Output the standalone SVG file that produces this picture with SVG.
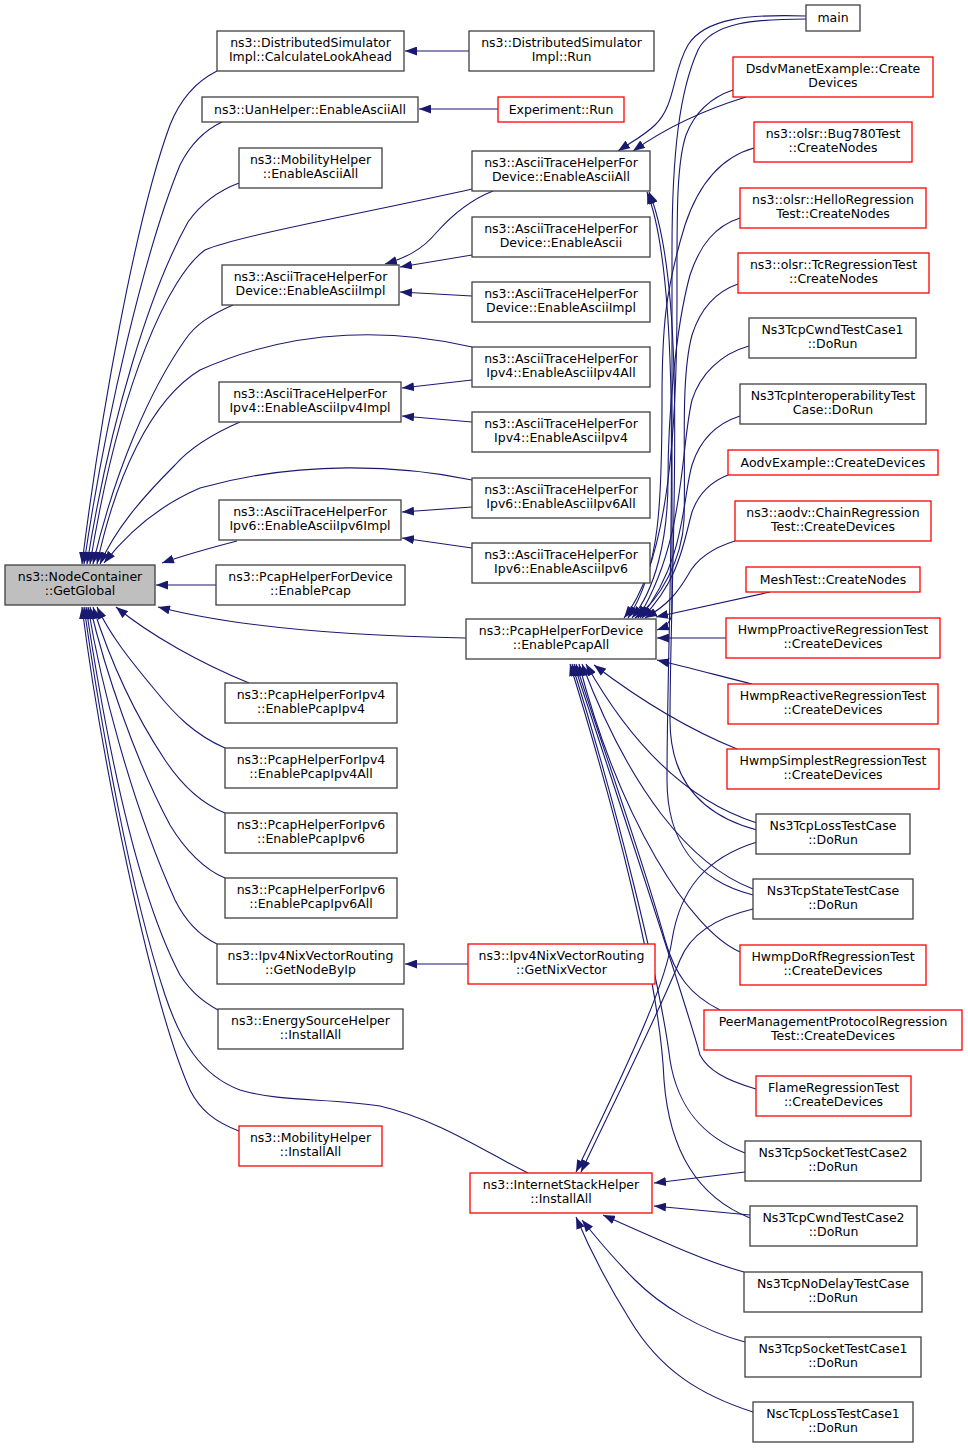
<svg xmlns="http://www.w3.org/2000/svg" width="968" height="1448" viewBox="0 0 968 1448">
<style>
text{font-family:"DejaVu Sans","Liberation Sans",sans-serif;font-size:12.5px;text-anchor:middle;fill:#000}
.n rect{fill:#fff;stroke:#404040;stroke-width:1.3}
.r rect{fill:#fff;stroke:#ff0000;stroke-width:1.3}
.g rect{fill:#bfbfbf;stroke:#404040;stroke-width:1.3}
#edges path{fill:none;stroke:#191970;stroke-width:1.1;marker-end:url(#ah)}
</style>
<defs>
<marker id="ah" viewBox="0 0 12 9" refX="12" refY="4.5" markerWidth="12" markerHeight="9" markerUnits="userSpaceOnUse" orient="auto"><path d="M0,0 L12,4.5 L0,9 z" fill="#191970"/></marker>
</defs>
<rect width="968" height="1448" fill="#fff"/>
<g id="edges">
<!-- to GetGlobal -->
<path d="M217,71 C195,82 180,100 170,125 C135,220 100,420 82,564"/>
<path d="M222,122 C205,130 190,145 180,165 C145,250 105,420 84,564"/>
<path d="M239,183 C215,192 200,205 188,222 C150,290 110,420 87,564"/>
<path d="M472,189 C380,210 240,235 205,250 C170,275 120,380 90,564"/>
<path d="M233,305 C210,315 195,325 185,340 C150,390 115,470 93,564"/>
<path d="M472,347 C400,330 300,325 200,370 C150,400 115,480 97,564"/>
<path d="M240,422 C210,435 190,448 175,465 C140,500 115,530 100,564"/>
<path d="M472,480 C400,465 300,460 200,488 C160,505 130,530 104,563"/>
<path d="M237,541 C210,548 185,555 162,563"/>
<path d="M216,585 L156,585"/>
<path d="M466,638 C350,636 240,628 158,607"/>
<path d="M249,683 C200,663 150,635 116,607"/>
<path d="M225,748 C195,735 175,715 155,690 C130,660 110,635 97,607"/>
<path d="M225,813 C205,805 185,790 165,760 C135,715 110,660 93,607"/>
<path d="M225,878 C205,870 185,850 170,825 C135,760 105,670 90,607"/>
<path d="M217,944 C200,936 185,920 175,900 C130,800 100,680 88,607"/>
<path d="M218,1010 C200,1000 190,990 180,975 C130,880 100,700 86,607"/>
<path d="M528,1173 C490,1155 440,1120 380,1106 C330,1098 280,1102 240,1090 C200,1075 180,1040 165,995 C130,890 100,720 84,607"/>
<path d="M239,1131 C215,1122 200,1110 190,1090 C150,1000 100,750 82,607"/>
<!-- level 2 -->
<path d="M469,51 L405,51"/>
<path d="M498,109 L419,109"/>
<path d="M493,191 C470,200 452,215 436,233 C422,250 405,258 385,264"/>
<path d="M472,255 L400,267"/>
<path d="M472,296 L400,292"/>
<path d="M472,380 L402,388"/>
<path d="M472,422 L402,416"/>
<path d="M472,507 L402,512"/>
<path d="M472,548 L402,538"/>
<path d="M468,964 L405,964"/>
<!-- to EnableAsciiAll (Device) -->
<path d="M806,16 C750,14 705,18 688,45 C672,72 676,105 655,125 C645,135 630,143 618,151"/>
<path d="M746,97 C710,108 670,125 633,151"/>
<path d="M757,830 C700,815 670,780 670,720 C670,560 690,290 649,192"/>
<path d="M753,895 C695,880 667,840 667,780 C667,600 686,290 647,192"/>
<!-- to EnablePcapAll -->
<path d="M806,19 C755,19 712,22 698,50 C680,90 672,150 672,250 L672,610 C672,620 668,626 657,630"/>
<path d="M733,90 C712,97 695,112 686,135 C676,165 677,220 677,300 C677,420 670,560 624,618"/>
<path d="M754,148 C725,156 700,180 685,225 C665,290 662,330 662,400 C662,500 660,570 628,618"/>
<path d="M740,218 C715,226 700,245 690,275 C675,330 668,420 668,480 C668,540 655,590 632,618"/>
<path d="M738,284 C715,292 700,310 692,335 C680,380 686,460 684,520 C682,560 660,600 635,618"/>
<path d="M749,346 C720,354 700,375 692,400 C680,450 686,540 638,618"/>
<path d="M740,416 C715,424 700,440 692,465 C682,500 686,560 640,618"/>
<path d="M728,475 C710,482 698,495 692,512 C684,540 680,580 642,618"/>
<path d="M735,541 C712,548 696,560 688,575 C678,592 668,605 645,618"/>
<path d="M770,592 L656,617"/>
<path d="M726,638 L657,638"/>
<path d="M752,684 C720,676 690,668 657,660"/>
<path d="M737,749 C690,730 640,700 594,665"/>
<path d="M757,823 C700,805 640,760 586,664"/>
<path d="M753,889 C690,865 630,790 582,664"/>
<path d="M740,952 C690,930 620,820 579,664"/>
<path d="M720,1010 C690,995 675,975 665,940 C640,850 600,740 576,664"/>
<path d="M756,1089 C725,1080 708,1070 700,1055 C685,1000 625,820 574,664"/>
<path d="M745,1153 C705,1138 678,1110 670,1060 C660,980 615,800 572,664"/>
<path d="M750,1218 C705,1200 670,1160 664,1080 C660,980 612,800 570,664"/>
<!-- to InternetStackHelper::InstallAll -->
<path d="M757,842 C705,858 680,890 672,940 C666,980 640,1040 576,1172"/>
<path d="M753,909 C715,918 690,935 680,960 C660,1010 620,1090 581,1172"/>
<path d="M745,1172 L654,1183"/>
<path d="M750,1215 L654,1206"/>
<path d="M744,1272 C710,1263 670,1245 603,1215"/>
<path d="M745,1342 C700,1330 660,1305 635,1280 C615,1260 598,1240 582,1220"/>
<path d="M753,1412 C700,1395 660,1370 630,1320 C605,1280 590,1250 576,1217"/>
</g>
<g id="n_getglobal" class="g"><rect x="5" y="565" width="150" height="40"/><text x="80" y="581">ns3::NodeContainer</text><text x="80" y="595">::GetGlobal</text></g>
<g id="n_calclookahead" class="n"><rect x="217" y="31" width="187" height="40"/><text x="310.5" y="47">ns3::DistributedSimulator</text><text x="310.5" y="61">Impl::CalculateLookAhead</text></g>
<g id="n_uan" class="n"><rect x="202" y="97" width="216" height="25"/><text x="310" y="113.5">ns3::UanHelper::EnableAsciiAll</text></g>
<g id="n_mobascii" class="n"><rect x="239" y="148" width="143" height="40"/><text x="310.5" y="164">ns3::MobilityHelper</text><text x="310.5" y="178">::EnableAsciiAll</text></g>
<g id="n_devasciiimpl_l" class="n"><rect x="222" y="265" width="177" height="40"/><text x="310.5" y="281">ns3::AsciiTraceHelperFor</text><text x="310.5" y="295">Device::EnableAsciiImpl</text></g>
<g id="n_ipv4impl" class="n"><rect x="219" y="382" width="182" height="40"/><text x="310" y="398">ns3::AsciiTraceHelperFor</text><text x="310" y="412">Ipv4::EnableAsciiIpv4Impl</text></g>
<g id="n_ipv6impl" class="n"><rect x="219" y="500" width="182" height="40"/><text x="310" y="516">ns3::AsciiTraceHelperFor</text><text x="310" y="530">Ipv6::EnableAsciiIpv6Impl</text></g>
<g id="n_enablepcap" class="n"><rect x="216" y="565" width="189" height="40"/><text x="310.5" y="581">ns3::PcapHelperForDevice</text><text x="310.5" y="595">::EnablePcap</text></g>
<g id="n_pcapipv4" class="n"><rect x="225" y="683" width="172" height="40"/><text x="311" y="699">ns3::PcapHelperForIpv4</text><text x="311" y="713">::EnablePcapIpv4</text></g>
<g id="n_pcapipv4all" class="n"><rect x="225" y="748" width="172" height="40"/><text x="311" y="764">ns3::PcapHelperForIpv4</text><text x="311" y="778">::EnablePcapIpv4All</text></g>
<g id="n_pcapipv6" class="n"><rect x="225" y="813" width="172" height="40"/><text x="311" y="829">ns3::PcapHelperForIpv6</text><text x="311" y="843">::EnablePcapIpv6</text></g>
<g id="n_pcapipv6all" class="n"><rect x="225" y="878" width="172" height="40"/><text x="311" y="894">ns3::PcapHelperForIpv6</text><text x="311" y="908">::EnablePcapIpv6All</text></g>
<g id="n_getnodebyip" class="n"><rect x="217" y="944" width="187" height="40"/><text x="310.5" y="960">ns3::Ipv4NixVectorRouting</text><text x="310.5" y="974">::GetNodeByIp</text></g>
<g id="n_energy" class="n"><rect x="218" y="1009" width="185" height="40"/><text x="310.5" y="1025">ns3::EnergySourceHelper</text><text x="310.5" y="1039">::InstallAll</text></g>
<g id="n_mobinstall" class="r"><rect x="239" y="1126" width="143" height="40"/><text x="310.5" y="1142">ns3::MobilityHelper</text><text x="310.5" y="1156">::InstallAll</text></g>
<g id="n_dsirun" class="n"><rect x="469" y="31" width="185" height="40"/><text x="561.5" y="47">ns3::DistributedSimulator</text><text x="561.5" y="61">Impl::Run</text></g>
<g id="n_exprun" class="r"><rect x="498" y="97" width="126" height="25"/><text x="561" y="113.5">Experiment::Run</text></g>
<g id="n_devasciiall" class="n"><rect x="472" y="151" width="178" height="40"/><text x="561" y="167">ns3::AsciiTraceHelperFor</text><text x="561" y="181">Device::EnableAsciiAll</text></g>
<g id="n_devascii" class="n"><rect x="472" y="217" width="178" height="40"/><text x="561" y="233">ns3::AsciiTraceHelperFor</text><text x="561" y="247">Device::EnableAscii</text></g>
<g id="n_devasciiimpl_m" class="n"><rect x="472" y="282" width="178" height="40"/><text x="561" y="298">ns3::AsciiTraceHelperFor</text><text x="561" y="312">Device::EnableAsciiImpl</text></g>
<g id="n_ipv4all" class="n"><rect x="472" y="347" width="178" height="40"/><text x="561" y="363">ns3::AsciiTraceHelperFor</text><text x="561" y="377">Ipv4::EnableAsciiIpv4All</text></g>
<g id="n_ipv4" class="n"><rect x="472" y="412" width="178" height="40"/><text x="561" y="428">ns3::AsciiTraceHelperFor</text><text x="561" y="442">Ipv4::EnableAsciiIpv4</text></g>
<g id="n_ipv6all" class="n"><rect x="472" y="478" width="178" height="40"/><text x="561" y="494">ns3::AsciiTraceHelperFor</text><text x="561" y="508">Ipv6::EnableAsciiIpv6All</text></g>
<g id="n_ipv6" class="n"><rect x="472" y="543" width="178" height="40"/><text x="561" y="559">ns3::AsciiTraceHelperFor</text><text x="561" y="573">Ipv6::EnableAsciiIpv6</text></g>
<g id="n_pcapall" class="n"><rect x="466" y="619" width="190" height="40"/><text x="561" y="635">ns3::PcapHelperForDevice</text><text x="561" y="649">::EnablePcapAll</text></g>
<g id="n_getnixvector" class="r"><rect x="468" y="944" width="187" height="40"/><text x="561.5" y="960">ns3::Ipv4NixVectorRouting</text><text x="561.5" y="974">::GetNixVector</text></g>
<g id="n_installall" class="r"><rect x="470" y="1173" width="182" height="40"/><text x="561" y="1189">ns3::InternetStackHelper</text><text x="561" y="1203">::InstallAll</text></g>
<g id="n_main" class="n"><rect x="806" y="5" width="54" height="26"/><text x="833" y="22">main</text></g>
<g id="n_dsdv" class="r"><rect x="733" y="57" width="200" height="40"/><text x="833" y="73">DsdvManetExample::Create</text><text x="833" y="87">Devices</text></g>
<g id="n_bug780" class="r"><rect x="754" y="122" width="158" height="40"/><text x="833" y="138">ns3::olsr::Bug780Test</text><text x="833" y="152">::CreateNodes</text></g>
<g id="n_hello" class="r"><rect x="740" y="188" width="186" height="40"/><text x="833" y="204">ns3::olsr::HelloRegression</text><text x="833" y="218">Test::CreateNodes</text></g>
<g id="n_tc" class="r"><rect x="738" y="253" width="191" height="40"/><text x="833.5" y="269">ns3::olsr::TcRegressionTest</text><text x="833.5" y="283">::CreateNodes</text></g>
<g id="n_cwnd1" class="n"><rect x="749" y="318" width="167" height="40"/><text x="832.5" y="334">Ns3TcpCwndTestCase1</text><text x="832.5" y="348">::DoRun</text></g>
<g id="n_interop" class="n"><rect x="740" y="384" width="186" height="40"/><text x="833" y="400">Ns3TcpInteroperabilityTest</text><text x="833" y="414">Case::DoRun</text></g>
<g id="n_aodv" class="r"><rect x="728" y="450" width="210" height="25"/><text x="833" y="466.5">AodvExample::CreateDevices</text></g>
<g id="n_chain" class="r"><rect x="735" y="501" width="196" height="40"/><text x="833" y="517">ns3::aodv::ChainRegression</text><text x="833" y="531">Test::CreateDevices</text></g>
<g id="n_mesh" class="r"><rect x="746" y="567" width="174" height="25"/><text x="833" y="583.5">MeshTest::CreateNodes</text></g>
<g id="n_hwmpproactive" class="r"><rect x="726" y="618" width="214" height="40"/><text x="833" y="634">HwmpProactiveRegressionTest</text><text x="833" y="648">::CreateDevices</text></g>
<g id="n_hwmpreactive" class="r"><rect x="728" y="684" width="210" height="40"/><text x="833" y="700">HwmpReactiveRegressionTest</text><text x="833" y="714">::CreateDevices</text></g>
<g id="n_hwmpsimplest" class="r"><rect x="727" y="749" width="212" height="40"/><text x="833" y="765">HwmpSimplestRegressionTest</text><text x="833" y="779">::CreateDevices</text></g>
<g id="n_tcploss" class="n"><rect x="756" y="814" width="154" height="40"/><text x="833" y="830">Ns3TcpLossTestCase</text><text x="833" y="844">::DoRun</text></g>
<g id="n_tcpstate" class="n"><rect x="753" y="879" width="160" height="40"/><text x="833" y="895">Ns3TcpStateTestCase</text><text x="833" y="909">::DoRun</text></g>
<g id="n_hwmpdorf" class="r"><rect x="740" y="945" width="186" height="40"/><text x="833" y="961">HwmpDoRfRegressionTest</text><text x="833" y="975">::CreateDevices</text></g>
<g id="n_peermgmt" class="r"><rect x="704" y="1010" width="258" height="40"/><text x="833" y="1026">PeerManagementProtocolRegression</text><text x="833" y="1040">Test::CreateDevices</text></g>
<g id="n_flame" class="r"><rect x="756" y="1076" width="155" height="40"/><text x="833.5" y="1092">FlameRegressionTest</text><text x="833.5" y="1106">::CreateDevices</text></g>
<g id="n_socket2" class="n"><rect x="745" y="1141" width="176" height="40"/><text x="833" y="1157">Ns3TcpSocketTestCase2</text><text x="833" y="1171">::DoRun</text></g>
<g id="n_cwnd2" class="n"><rect x="750" y="1206" width="167" height="40"/><text x="833.5" y="1222">Ns3TcpCwndTestCase2</text><text x="833.5" y="1236">::DoRun</text></g>
<g id="n_nodelay" class="n"><rect x="744" y="1272" width="178" height="40"/><text x="833" y="1288">Ns3TcpNoDelayTestCase</text><text x="833" y="1302">::DoRun</text></g>
<g id="n_socket1" class="n"><rect x="745" y="1337" width="176" height="40"/><text x="833" y="1353">Ns3TcpSocketTestCase1</text><text x="833" y="1367">::DoRun</text></g>
<g id="n_nscloss" class="n"><rect x="753" y="1402" width="160" height="40"/><text x="833" y="1418">NscTcpLossTestCase1</text><text x="833" y="1432">::DoRun</text></g>
</svg>
